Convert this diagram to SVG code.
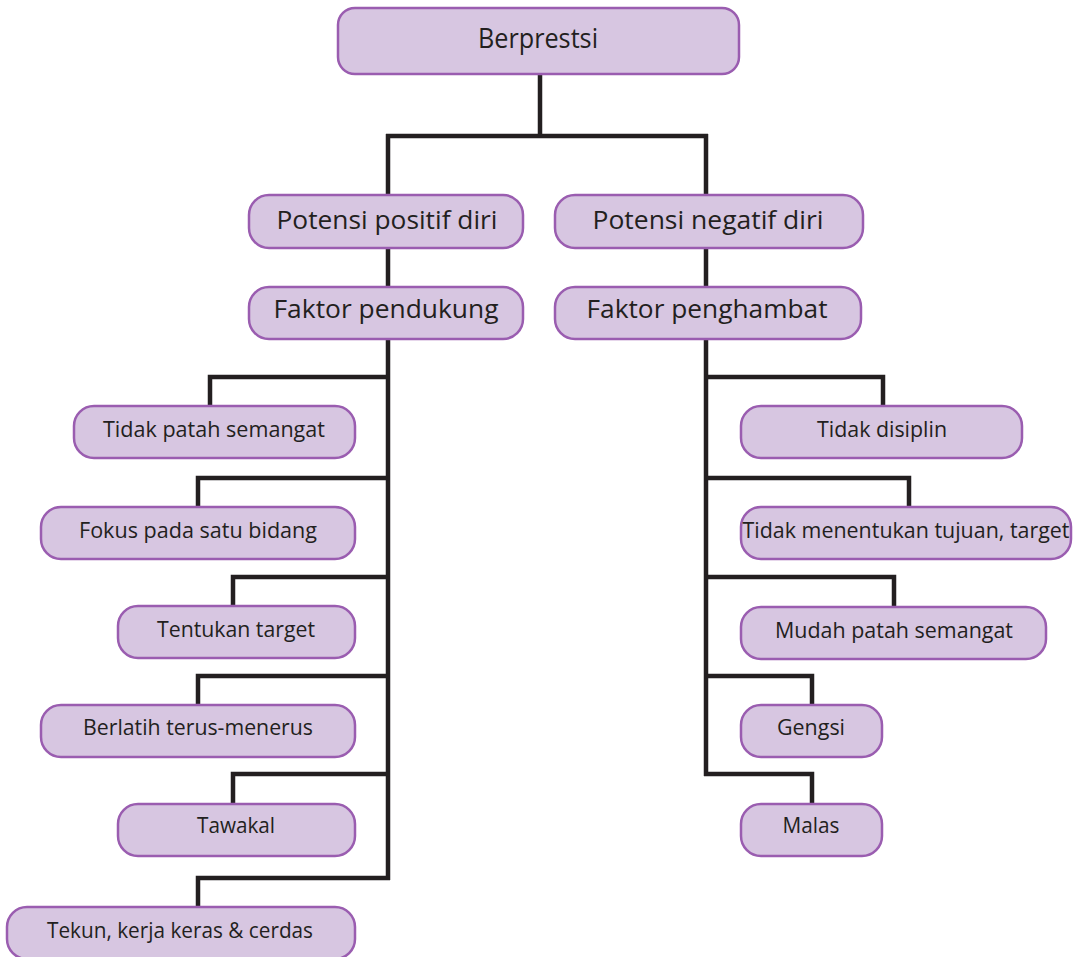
<svg xmlns="http://www.w3.org/2000/svg" width="1081" height="957" viewBox="0 0 1081 957">
<style>
.box{fill:#d7c6e1;stroke:#9a5db0;stroke-width:2.5}
.t{font-family:"Open Sans","Noto Sans",sans-serif;fill:#231f20;text-anchor:middle}
.lg{font-size:27px}
.md{font-size:25px}
.sm{font-size:21px}
.ln{fill:none;stroke:#231f20;stroke-width:4.5;stroke-linejoin:miter;stroke-linecap:butt}
</style>
<rect width="1081" height="957" fill="#ffffff"/>
<g id="connectors" class="ln">
<path d="M540 74 V136 M386 136 H708 M388 134 V196 M706 134 V196"/>
<path d="M388 248 V288 M706 248 V288"/>
<path d="M388 340 V880"/>
<path d="M390 377 H210 V406 M390 478 H198 V507 M390 577 H233 V606 M390 676 H198 V705 M390 774 H233 V804 M390 878 H198 V907"/>
<path d="M706 340 V776"/>
<path d="M704 377 H883 V406 M704 478 H909 V507 M704 577 H894 V607 M704 676 H812 V705 M704 774 H812 V804"/>
</g>
<g id="n-berprestsi"><rect class="box" x="338" y="8" width="401" height="66" rx="17"/><text class="t lg" x="538" y="48" textLength="120" lengthAdjust="spacingAndGlyphs">Berprestsi</text></g>
<g id="n-positif"><rect class="box" x="249" y="195" width="274" height="53" rx="20"/><text class="t md" x="387" y="229" textLength="221" lengthAdjust="spacingAndGlyphs">Potensi positif diri</text></g>
<g id="n-negatif"><rect class="box" x="555" y="195" width="308" height="53" rx="20"/><text class="t md" x="708" y="229" textLength="231" lengthAdjust="spacingAndGlyphs">Potensi negatif diri</text></g>
<g id="n-pendukung"><rect class="box" x="249" y="287" width="274" height="52" rx="20"/><text class="t md" x="386" y="318" textLength="225" lengthAdjust="spacingAndGlyphs">Faktor pendukung</text></g>
<g id="n-penghambat"><rect class="box" x="555" y="287" width="306" height="52" rx="20"/><text class="t md" x="707" y="318" textLength="241" lengthAdjust="spacingAndGlyphs">Faktor penghambat</text></g>
<g id="n-tidak-patah"><rect class="box" x="74" y="406" width="281" height="52" rx="20"/><text class="t sm" x="214" y="437" textLength="222" lengthAdjust="spacingAndGlyphs">Tidak patah semangat</text></g>
<g id="n-fokus"><rect class="box" x="41" y="507" width="314" height="52" rx="20"/><text class="t sm" x="198" y="538" textLength="238" lengthAdjust="spacingAndGlyphs">Fokus pada satu bidang</text></g>
<g id="n-tentukan"><rect class="box" x="118" y="606" width="237" height="52" rx="20"/><text class="t sm" x="236" y="637" textLength="158" lengthAdjust="spacingAndGlyphs">Tentukan target</text></g>
<g id="n-berlatih"><rect class="box" x="41" y="705" width="314" height="52" rx="20"/><text class="t sm" x="198" y="735" textLength="230" lengthAdjust="spacingAndGlyphs">Berlatih terus-menerus</text></g>
<g id="n-tawakal"><rect class="box" x="118" y="804" width="237" height="52" rx="20"/><text class="t sm" x="236" y="833" textLength="78" lengthAdjust="spacingAndGlyphs">Tawakal</text></g>
<g id="n-tekun"><rect class="box" x="7" y="907" width="348" height="52" rx="20"/><text class="t sm" x="180" y="938" textLength="266" lengthAdjust="spacingAndGlyphs">Tekun, kerja keras &amp; cerdas</text></g>
<g id="n-disiplin"><rect class="box" x="741" y="406" width="281" height="52" rx="20"/><text class="t sm" x="882" y="437" textLength="130" lengthAdjust="spacingAndGlyphs">Tidak disiplin</text></g>
<g id="n-menentukan"><rect class="box" x="741" y="507" width="330" height="52" rx="20"/><text class="t sm" x="906" y="538" textLength="327" lengthAdjust="spacingAndGlyphs">Tidak menentukan tujuan, target</text></g>
<g id="n-mudah"><rect class="box" x="741" y="607" width="305" height="52" rx="20"/><text class="t sm" x="894" y="638" textLength="238" lengthAdjust="spacingAndGlyphs">Mudah patah semangat</text></g>
<g id="n-gengsi"><rect class="box" x="741" y="705" width="141" height="52" rx="20"/><text class="t sm" x="811" y="735" textLength="68" lengthAdjust="spacingAndGlyphs">Gengsi</text></g>
<g id="n-malas"><rect class="box" x="741" y="804" width="141" height="52" rx="20"/><text class="t sm" x="811" y="833" textLength="57" lengthAdjust="spacingAndGlyphs">Malas</text></g>
</svg>
